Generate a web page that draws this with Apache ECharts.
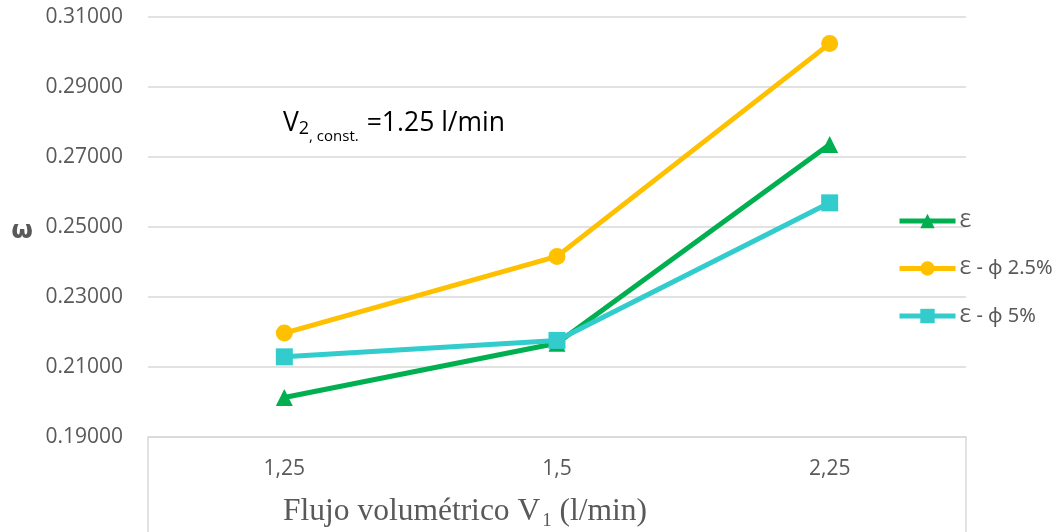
<!DOCTYPE html>
<html>
<head>
<meta charset="utf-8">
<style>
  html, body { margin: 0; padding: 0; background: #ffffff; }
  #chart { width: 1063px; height: 532px; }
</style>
<script src="https://cdn.jsdelivr.net/npm/echarts@6/dist/echarts.min.js"></script>
</head>
<body>
<div id="chart"></div>
<script>
// Volumetric flow V1 (l/min) categories
const categories = ['1,25', '1,5', '2,25'];

// ω values per series
const epsilon      = [0.2013, 0.2168, 0.2736];
const epsilonPhi25 = [0.2197, 0.2416, 0.3024];
const epsilonPhi5  = [0.2129, 0.2176, 0.2569];

const seriesNames = ['Ɛ', 'Ɛ - ϕ 2.5%', 'Ɛ - ϕ 5%'];

// y axis range; labels every 0.02
const yMin = 0.19;
const yMax = 0.31;
const yStep = 0.01;

const GRAY_TEXT = '#595959';
const GRID_LINE = '#d9d9d9';

// width of a string in a given font, used to chain text pieces with subscripts
const measureCtx = document.createElement('canvas').getContext('2d');
function textWidth(str, font) {
  measureCtx.font = font;
  return measureCtx.measureText(str).width;
}

// builds a run of text pieces laid out left to right
function textRun(x, pieces, fill) {
  const out = [];
  let cx = x;
  pieces.forEach(function (p) {
    out.push({
      type: 'text', silent: true, x: cx, y: p.y,
      style: { text: p.text, fill: fill, font: p.font, textAlign: 'left', textVerticalAlign: 'middle' }
    });
    cx += textWidth(p.text, p.font) + (p.after || 0);
  });
  return out;
}

const chart = echarts.init(document.getElementById('chart'), null, { renderer: 'canvas' });

function lineSeries(name, data, color, symbol) {
  return {
    name: name,
    type: 'line',
    data: data,
    symbol: symbol,
    symbolSize: 17,
    showAllSymbol: true,
    lineStyle: { color: color, width: 5 },
    itemStyle: { color: color },
    emphasis: { disabled: true },
    animation: false
  };
}

const xNameFont = '31.5px "Liberation Serif"';
const xSubFont = '19px "Liberation Serif"';
const noteFont = '26.5px "Open Sans"';

const graphics = [
  // box edges below the category axis
  { type: 'line', silent: true, shape: { x1: 148, y1: 437, x2: 148, y2: 532 },
    style: { stroke: GRID_LINE, lineWidth: 1.5 } },
  { type: 'line', silent: true, shape: { x1: 966, y1: 437, x2: 966, y2: 532 },
    style: { stroke: GRID_LINE, lineWidth: 1.5 } },
  // y axis name
  { type: 'text', silent: true, x: 22, y: 231,
    style: { text: 'ω', fill: GRAY_TEXT, font: 'bold 25px "DejaVu Sans"',
             textAlign: 'center', textVerticalAlign: 'middle' } }
].concat(
  // x axis name with subscript
  textRun(283, [
    { text: 'Flujo volumétrico V', font: xNameFont, y: 512, after: 2 },
    { text: '1', font: xSubFont, y: 521, after: 0 },
    { text: ' (l/min)', font: xNameFont, y: 512 }
  ], GRAY_TEXT),
  // constant V2 note
  textRun(283, [
    { text: 'V', font: noteFont, y: 123, after: 0 },
    { text: '2', font: '18px "Open Sans"', y: 129, after: 0 },
    { text: ', const.', font: '15px "Open Sans"', y: 137, after: 8 },
    { text: '=1.25 l/min', font: noteFont, y: 123 }
  ], '#000000')
);

chart.setOption({
  backgroundColor: '#ffffff',
  animation: false,
  grid: { left: 148, right: 97, top: 17, bottom: 95 },
  xAxis: {
    type: 'category',
    data: categories,
    boundaryGap: true,
    axisLine: { show: true, lineStyle: { color: GRID_LINE, width: 1.5 } },
    axisTick: { show: false },
    axisLabel: {
      color: GRAY_TEXT,
      fontFamily: 'Open Sans',
      fontSize: 21,
      margin: 22
    }
  },
  yAxis: {
    type: 'value',
    min: yMin,
    max: yMax,
    interval: yStep,
    axisLine: { show: false },
    axisTick: { show: false },
    axisLabel: {
      color: GRAY_TEXT,
      fontFamily: 'Open Sans',
      fontSize: 21,
      margin: 25,
      formatter: function (v) {
        const k = Math.round(v * 100);
        return k % 2 === 1 ? v.toFixed(5) : '';
      }
    },
    splitLine: {
      show: true,
      lineStyle: { color: [GRID_LINE, 'rgba(0,0,0,0)'], width: 1.5 }
    }
  },
  legend: {
    orient: 'vertical',
    left: 897,
    top: 211,
    padding: 0,
    itemWidth: 56,
    itemHeight: 18,
    itemGap: 27.5,
    lineStyle: { width: 5 },
    textStyle: { color: GRAY_TEXT, fontFamily: 'Noto Sans', fontSize: 20, padding: [0, 0, 0, -1] },
    data: seriesNames
  },
  series: [
    lineSeries(seriesNames[0], epsilon, '#00B050', 'triangle'),
    lineSeries(seriesNames[1], epsilonPhi25, '#FFC000', 'circle'),
    lineSeries(seriesNames[2], epsilonPhi5, '#33CCCC', 'rect')
  ],
  graphic: graphics
});
</script>
</body>
</html>
